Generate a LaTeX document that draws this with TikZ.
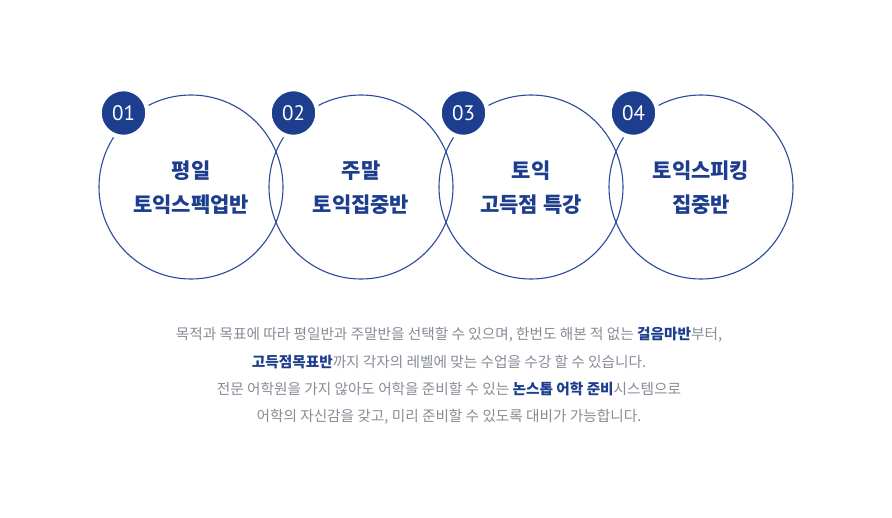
\documentclass[tikz,border=0pt]{standalone}
\usepackage{fontspec}
\setmainfont{Noto Sans CJK KR}
\newfontfamily\numfont{PT Sans}
\definecolor{navy}{HTML}{1D3E8E}
\definecolor{ringc}{HTML}{2B4A9B}
\definecolor{bodyc}{HTML}{878C96}
\begin{document}
\begin{tikzpicture}[x=1pt,y=-1pt,
  ring/.style={draw=ringc,line width=1.1pt,circle,minimum size=184pt,inner sep=0pt},
  badge/.style={circle,fill=navy,draw=white,line width=4.5pt,minimum size=48pt,inner sep=0pt,text=white,font=\numfont\fontsize{21}{21}\selectfont},
  title/.style={text=navy,align=center,font=\bfseries\fontsize{21}{34}\selectfont},
  body/.style={text=bodyc,align=center,font=\fontsize{14.65}{27.3}\selectfont}]
\useasboundingbox[fill=white] (0,0) rectangle (892,517);
\node[ring] (c1) at (191,187) {};
\node[ring] (c2) at (361,187) {};
\node[ring] (c3) at (531,187) {};
\node[ring] (c4) at (701,187) {};
\node[badge] (b1) at (123.5,113) {01};
\node[badge] (b2) at (293.5,113) {02};
\node[badge] (b3) at (463.5,113) {03};
\node[badge] (b4) at (633.5,113) {04};
\node[title] (t1) at (191,188) {평일\\토익스펙업반};
\node[title] (t2) at (361,188) {주말\\토익집중반};
\node[title] (t3) at (531,188) {토익\\고득점 특강};
\node[title] (t4) at (701,188) {토익스피킹\\집중반};
\node[body] (tx) at (449,376) {목적과 목표에 따라 평일반과 주말반을 선택할 수 있으며, 한번도 해본 적 없는 {\bfseries\color{navy}걸음마반}부터,\\
{\bfseries\color{navy}고득점목표반}까지 각자의 레벨에 맞는 수업을 수강 할 수 있습니다.\\
전문 어학원을 가지 않아도 어학을 준비할 수 있는 {\bfseries\color{navy}논스톱 어학 준비}시스템으로\\
어학의 자신감을 갖고, 미리 준비할 수 있도록 대비가 가능합니다.};
\end{tikzpicture}
\end{document}
